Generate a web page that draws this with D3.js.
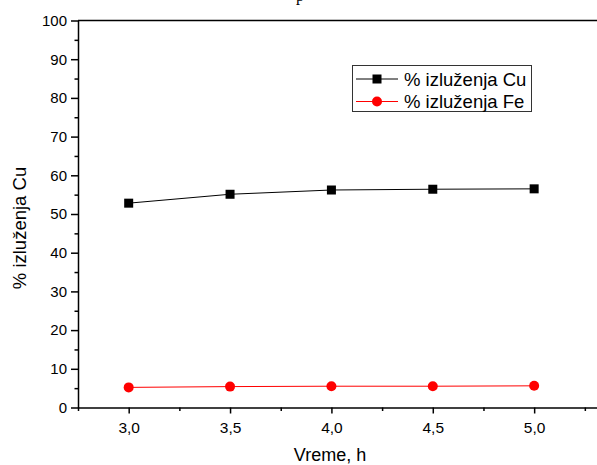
<!DOCTYPE html>
<html><head><meta charset="utf-8">
<script src="https://cdn.jsdelivr.net/npm/d3@7"></script>
<style>body{margin:0;background:#fff}svg{display:block}text{font-family:"Liberation Sans",Arial,sans-serif;fill:#000}</style>
</head><body>
<script>
const times = [3.0, 3.5, 4.0, 4.5, 5.0];
const cuValues = [52.8, 55.1, 56.2, 56.4, 56.5];
const feValues = [5.2, 5.4, 5.5, 5.5, 5.6];
const xTickValues = [3.0, 3.5, 4.0, 4.5, 5.0];
const yTickValues = [0, 10, 20, 30, 40, 50, 60, 70, 80, 90, 100];
const legendLabels = ["% izluženja Cu", "% izluženja Fe"];

const W = 597, H = 465;
const m = {left: 78, top: 20.5, right: 0, bottom: 57.5};
const svg = d3.select("body").append("svg").attr("width", W).attr("height", H);
const x = d3.scaleLinear().domain([2.75, 5.31]).range([m.left, W - m.right]);
const y = d3.scaleLinear().domain([0, 100]).range([H - m.bottom, m.top]);
const fmt = d => d3.format(".1f")(d).replace(".", ",");

// partial title glyph at top (cut off in the reference too)
svg.append("text").attr("x", 300).attr("y", 0.5).attr("text-anchor", "middle")
  .style("font-family", "'Liberation Serif','Times New Roman',serif").style("font-size", "16px").text("p");

// top frame line
svg.append("line").attr("x1", m.left).attr("x2", W).attr("y1", y(100)).attr("y2", y(100))
  .attr("stroke", "#000").attr("stroke-width", 1.5);

// x axis
const xAxis = svg.append("g").attr("transform", `translate(0,${y(0)})`)
  .call(d3.axisBottom(x).tickValues(xTickValues).tickFormat(fmt).tickSize(6).tickSizeOuter(0).tickPadding(8));
xAxis.select(".domain").attr("stroke-width", 1.5);
xAxis.selectAll(".tick line").attr("stroke-width", 1.5);
xAxis.selectAll("text").style("font-size", "15.5px").style("font-family", "'Liberation Sans',Arial,sans-serif");
svg.append("g").attr("transform", `translate(0,${y(0)})`)
  .call(d3.axisBottom(x).tickValues([2.75, 3.25, 3.75, 4.25, 4.75, 5.25]).tickFormat("").tickSize(3.5).tickSizeOuter(0))
  .call(g => g.select(".domain").remove()).selectAll("line").attr("stroke-width", 1.5);

// y axis
const yAxis = svg.append("g").attr("transform", `translate(${m.left},0)`)
  .call(d3.axisLeft(y).tickValues(yTickValues).tickSize(7).tickSizeOuter(0).tickPadding(4));
yAxis.select(".domain").attr("stroke-width", 1.5);
yAxis.selectAll(".tick line").attr("stroke-width", 1.5);
yAxis.selectAll("text").style("font-size", "15px").style("font-family", "'Liberation Sans',Arial,sans-serif");
svg.append("g").attr("transform", `translate(${m.left},0)`)
  .call(d3.axisLeft(y).tickValues(d3.range(5, 100, 10)).tickFormat("").tickSize(3.5).tickSizeOuter(0))
  .call(g => g.select(".domain").remove()).selectAll("line").attr("stroke-width", 1.5);

// axis titles
svg.append("text").attr("x", 330).attr("y", 460.5).attr("text-anchor", "middle")
  .style("font-size", "18px").text("Vreme, h");
svg.append("text").attr("transform", "translate(26,228) rotate(-90)").attr("text-anchor", "middle")
  .style("font-size", "18.5px").text("% izluženja Cu");

// series
const line = d3.line().x((d, i) => x(times[i])).y(d => y(d));
svg.append("path").datum(cuValues).attr("d", line).attr("fill", "none").attr("stroke", "#000").attr("stroke-width", 1);
svg.append("path").datum(feValues).attr("d", line).attr("fill", "none").attr("stroke", "#ff0000").attr("stroke-width", 1);
svg.selectAll(".cu").data(cuValues).join("rect").attr("class", "cu")
  .attr("x", (d, i) => x(times[i]) - 4.5).attr("y", d => y(d) - 4.5).attr("width", 9).attr("height", 9).attr("fill", "#000");
svg.selectAll(".fe").data(feValues).join("circle").attr("class", "fe")
  .attr("cx", (d, i) => x(times[i])).attr("cy", d => y(d)).attr("r", 5).attr("fill", "#ff0000");

// legend
const lg = svg.append("g");
lg.append("rect").attr("x", 352.5).attr("y", 65.5).attr("width", 179).attr("height", 46)
  .attr("fill", "#fff").attr("stroke", "#333").attr("stroke-width", 1);
const colors = ["#000", "#ff0000"];
legendLabels.forEach((lab, i) => {
  const cy = 79 + i * 22.5;
  lg.append("line").attr("x1", 356).attr("x2", 398).attr("y1", cy).attr("y2", cy).attr("stroke", colors[i]).attr("stroke-width", 1);
  if (i === 0) lg.append("rect").attr("x", 372.5).attr("y", cy - 4.5).attr("width", 9).attr("height", 9).attr("fill", "#000");
  else lg.append("circle").attr("cx", 377).attr("cy", cy).attr("r", 5).attr("fill", "#ff0000");
  lg.append("text").attr("x", 404).attr("y", cy + 6.5).style("font-size", "18.5px").text(lab);
});
</script>
</body></html>
